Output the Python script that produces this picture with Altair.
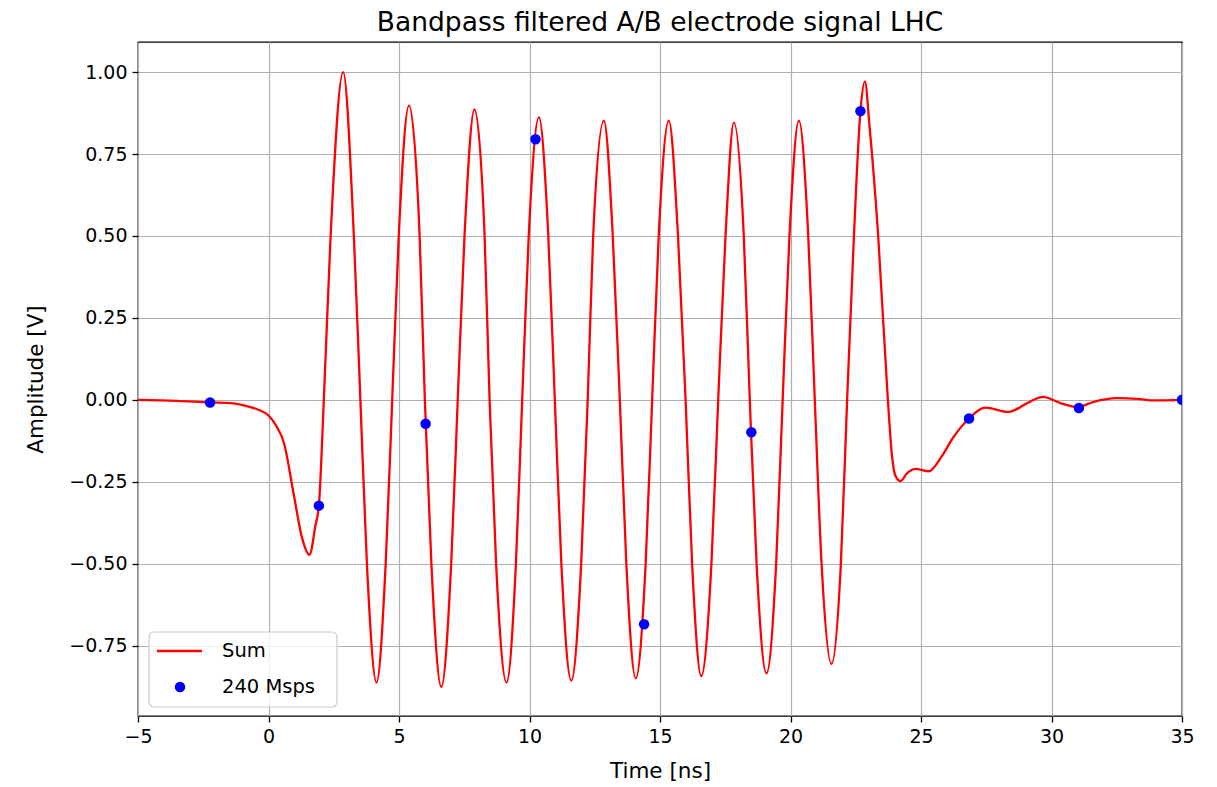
import altair as alt
import pandas as pd

# ---- data ----
curve_t = [-5.0, -3.5, -2.24, -1.46, -0.9, -0.43, 0.0, 0.3, 0.59, 0.97, 1.29, 1.57, 1.80, 1.93,
           2.12, 2.38, 2.86, 3.27, 3.52, 3.77, 4.14, 4.49, 4.74, 4.99, 5.38, 5.79, 5.99, 6.24,
           6.62, 7.00, 7.25, 7.51, 7.89, 8.28, 8.47, 8.72, 9.12, 9.48, 9.72, 9.97, 10.36, 10.72,
           10.97, 11.22, 11.60, 11.98, 12.23, 12.44, 12.85, 13.19, 13.46, 13.71, 14.07, 14.45,
           14.70, 14.95, 15.34, 15.69, 15.98, 16.23, 16.58, 16.97, 17.23, 17.51, 17.83, 18.21,
           18.44, 18.70, 19.08, 19.45, 19.70, 19.96, 20.32, 20.68, 20.93, 21.19, 21.57, 21.93,
           22.17, 22.43, 22.68, 22.85, 23.03, 23.36, 23.73, 23.89, 24.02, 24.21, 24.47, 24.79,
           25.30, 25.75, 26.26, 26.84, 27.47, 28.36, 29.07, 29.68, 30.34, 31.0, 31.62, 32.5,
           33.3, 33.92, 35.0]
curve_v = [0.0, -0.003, -0.008, -0.010, -0.018, -0.029, -0.048, -0.08, -0.131, -0.29, -0.423, -0.473, -0.383, -0.323,
           0.0, 0.5, 1.0, 0.5, 0.0, -0.5, -0.863, -0.5, 0.0, 0.5, 0.898, 0.5, 0.0, -0.5,
           -0.876, -0.5, 0.0, 0.5, 0.886, 0.5, 0.0, -0.5, -0.863, -0.5, 0.0, 0.5, 0.862, 0.5,
           0.0, -0.5, -0.857, -0.5, 0.0, 0.5, 0.852, 0.5, 0.0, -0.5, -0.85, -0.5,
           0.0, 0.5, 0.852, 0.5, 0.0, -0.5, -0.843, -0.5, 0.0, 0.5, 0.846, 0.5,
           0.0, -0.5, -0.835, -0.5, 0.0, 0.5, 0.852, 0.5, 0.0, -0.5, -0.806, -0.5,
           0.0, 0.5, 0.881, 0.972, 0.833, 0.5, 0.0, -0.172, -0.232, -0.248, -0.224, -0.211,
           -0.218, -0.178, -0.112, -0.057, -0.024, -0.037, -0.010, 0.009, -0.010, -0.022, -0.006, 0.005,
           0.003, -0.002, 0.0]

sample_t = [-2.24, 1.93, 6.02, 10.23, 14.39, 18.50, 22.68, 26.84, 31.05, 35.0]
sample_v = [-0.008, -0.323, -0.073, 0.795, -0.685, -0.099, 0.881, -0.057, -0.025, 0.0]

x_ticks = [-5, 0, 5, 10, 15, 20, 25, 30, 35]
y_ticks = [-0.75, -0.5, -0.25, 0.0, 0.25, 0.5, 0.75, 1.0]
legend_labels = ["Sum", "240 Msps"]

FONT = "DejaVu Sans"

curve_df = pd.DataFrame({"t": curve_t, "v": curve_v})
sample_df = pd.DataFrame({"t": sample_t, "v": sample_v})
one = pd.DataFrame({"k": [0]})

x_enc = alt.X("t:Q", scale=alt.Scale(domain=[-5, 35], nice=False, zero=False),
              axis=alt.Axis(values=x_ticks, format="d", title="Time [ns]", labelFlush=False))
y_enc = alt.Y("v:Q", scale=alt.Scale(domain=[-0.965, 1.092], nice=False, zero=False),
              axis=alt.Axis(values=y_ticks, format=".2f", title="Amplitude [V]"))

line = alt.Chart(curve_df).mark_line(color="red", strokeWidth=2.3, interpolate="monotone", clip=True).encode(
    x=x_enc, y=y_enc)

pts = alt.Chart(sample_df).mark_circle(color="blue", size=110, opacity=1, clip=True).encode(
    x="t:Q", y="v:Q")

leg_box = alt.Chart(one).mark_rect(fill="white", fillOpacity=0.8, stroke="#cccccc", strokeWidth=1.2,
                                   cornerRadius=5).encode(
    x=alt.value(11), x2=alt.value(199), y=alt.value(590), y2=alt.value(665))
leg_line = alt.Chart(one).mark_rule(color="red", strokeWidth=2.3).encode(
    x=alt.value(19), x2=alt.value(64), y=alt.value(609))
leg_dot = alt.Chart(one).mark_circle(color="blue", size=110, opacity=1).encode(
    x=alt.value(42), y=alt.value(645))
leg_txt1 = alt.Chart(one).mark_text(align="left", baseline="middle", fontSize=19.5, font=FONT, color="black").encode(
    x=alt.value(84), y=alt.value(609), text=alt.value(legend_labels[0]))
leg_txt2 = alt.Chart(one).mark_text(align="left", baseline="middle", fontSize=19.5, font=FONT, color="black").encode(
    x=alt.value(84), y=alt.value(645), text=alt.value(legend_labels[1]))

chart = alt.layer(line, pts, leg_box, leg_line, leg_dot, leg_txt1, leg_txt2).properties(
    width=1044, height=674,
    title=alt.TitleParams("Bandpass filtered A/B electrode signal LHC", fontSize=26.5, font=FONT,
                          fontWeight="normal", color="black", offset=6),
    autosize=alt.AutoSizeParams(type="none"),
    padding={"left": 138, "top": 42, "right": 35, "bottom": 71},
).configure_view(
    stroke="black", strokeWidth=1.3
).configure_axis(
    grid=True, gridColor="#b0b0b0", gridWidth=1.2, domain=False,
    tickColor="black", tickSize=6, tickWidth=1.3,
    labelFont=FONT, labelFontSize=19, labelColor="black", labelPadding=5,
    titleFont=FONT, titleFontSize=21.5, titleFontWeight="normal", titleColor="black",
).configure_axisX(titlePadding=14).configure_axisY(titlePadding=21)

chart.save("out.html", embed_options={"renderer": "svg", "actions": False})
